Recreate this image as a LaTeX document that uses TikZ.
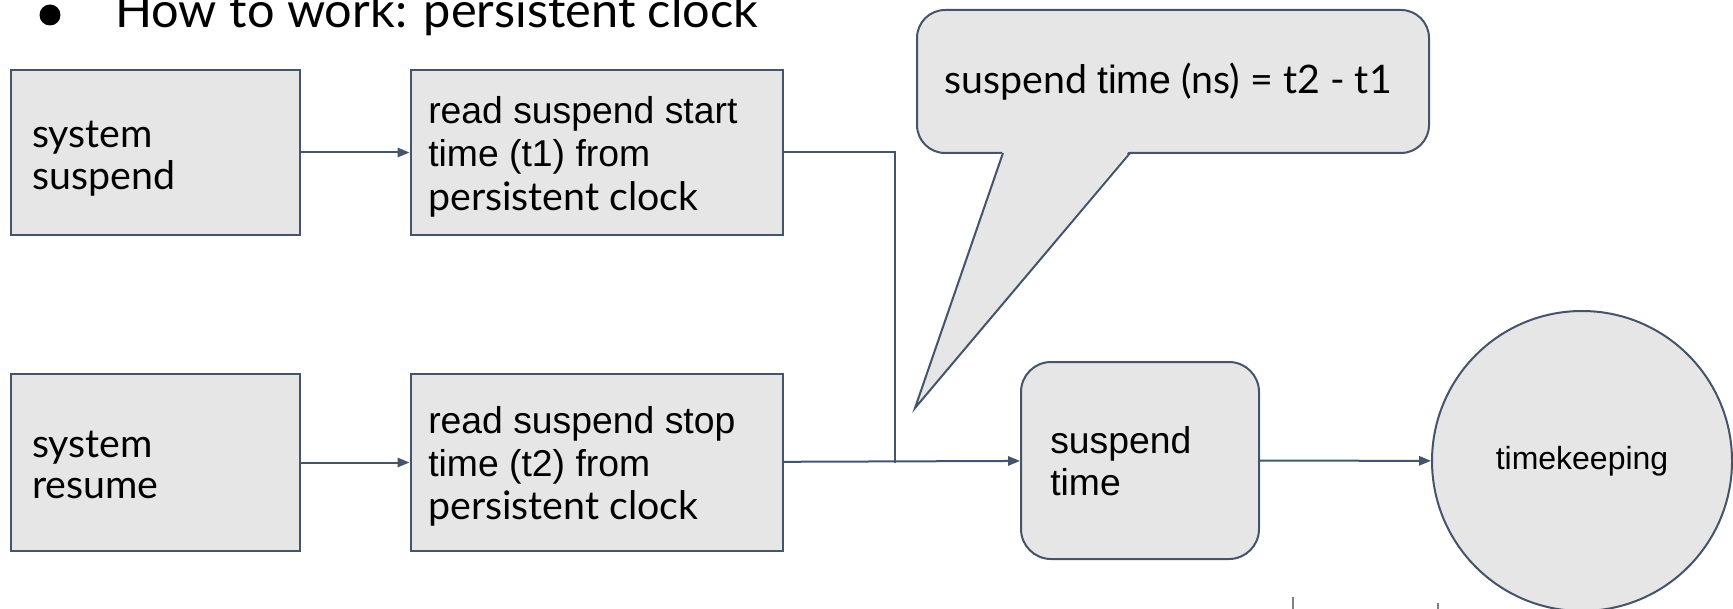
\documentclass[tikz,border=0pt]{standalone}
\usepackage{fontspec}
\setmainfont{Liberation Sans}
\newfontfamily\muli{Lato}
\newfontfamily\arial{Liberation Sans}
\usetikzlibrary{arrows.meta}
\definecolor{edge}{HTML}{44546A}
\definecolor{boxfill}{HTML}{E6E6E6}
\begin{document}
\begin{tikzpicture}[x=0.75pt,y=-0.75pt,
  box/.style={draw=edge, fill=boxfill, line width=1.5pt, inner sep=0pt},
  conn/.style={draw=edge, line width=1.5pt},
  arr/.style={conn, -{Triangle[length=9pt,width=7pt]}},
  txt/.style={align=left, inner sep=0pt, anchor=north west},
  mfont/.style={font=\muli\fontsize{29.5}{30.75}\selectfont},
  afont/.style={font=\arial\fontsize{28}{32.5}\selectfont}]
\useasboundingbox (0,0) rectangle (1733,609);
\clip (0,0) rectangle (1733,609);
% title
\node[circle, fill=black, minimum size=15.75pt, inner sep=0pt] (bullet) at (50,15) {};
\node[anchor=base west, inner sep=0pt, font=\muli\fontsize{36.5}{40}\selectfont] (title) at (115,28) {How to work: persistent clock};
% boxes
\node[box, minimum width=216.75pt, minimum height=123.75pt] (sus) at (155.5,152.5) {};
\node[box, minimum width=279pt, minimum height=123.75pt] (rd1) at (596.5,152.5) {};
\node[box, minimum width=216.75pt, minimum height=132.75pt] (res) at (155.5,462.5) {};
\node[box, minimum width=279pt, minimum height=132.75pt] (rd2) at (596.5,462.5) {};
\node[box, rounded corners=22.5pt, minimum width=178.5pt, minimum height=147.75pt] (st) at (1140,460.5) {};
\node[box, circle, minimum size=225pt, font=\arial\fontsize{24}{28}\selectfont] (tk) at (1582,461) {timekeeping};
% callout
\node[box, rounded corners=21pt, minimum width=384pt, minimum height=107.25pt] (note) at (1173,81.5) {};
\coordinate (pa) at (1003,153);
\coordinate (pb) at (1130,153);
\coordinate (tip) at (915,408);
\fill[boxfill] (1003,150) -- (tip) -- (1130,150) -- cycle;
\draw[conn, line join=miter] (pa) -- (tip) -- (pb);
\node[anchor=base west, inner sep=0pt, font=\muli\fontsize{29.5}{34}\selectfont] (notetext) at (944,94) {suspend {\arial time} (ns) = t2 - t1};
% texts
\node[txt, mfont] (sustext) at (32,118.3) {\strut system\\\strut suspend};
\node[txt, mfont] (restext) at (32,428.3) {\strut system\\\strut resume};
\node[txt, afont] (rd1text) at (428,93) {\strut read suspend start\\\strut time (t1) from\\\strut{\muli\fontsize{29.5}{32.5}\selectfont persistent clock}};
\node[txt, afont] (rd2text) at (428,402.5) {\strut read suspend stop\\\strut time (t2) from\\\strut{\muli\fontsize{29.5}{32.5}\selectfont persistent clock}};
\node[txt, font=\arial\fontsize{28}{31.5}\selectfont] (sttext) at (1050,423.6) {\strut suspend\\\strut time};
% connectors
\coordinate (j) at (895,462.5);
\draw[arr] (sus) -- (rd1);
\draw[arr] (res) -- (rd2);
\draw[conn] (rd1.east) -| (j);
\draw[arr] (rd2) -- (st);
\draw[arr] (st) -- (tk);
% stray marks at the bottom edge
\draw[gray, line width=1pt] (1293,597) -- (1293,609);
\draw[gray, line width=0.8pt] (1438,603) -- (1438,609);
\end{tikzpicture}
\end{document}
